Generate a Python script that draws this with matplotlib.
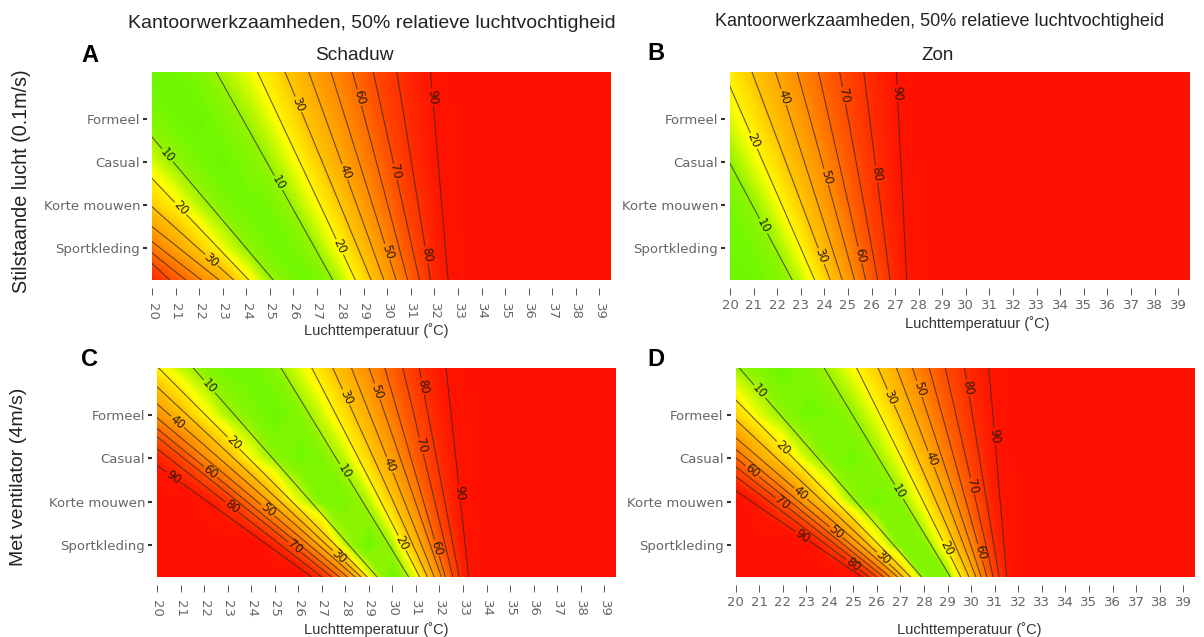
import numpy as np
import matplotlib
matplotlib.use("Agg")
import matplotlib.pyplot as plt
from matplotlib.colors import LinearSegmentedColormap

# luchttemperatuur kolommen en kledingrijen (boven -> onder)
temps = [20, 21, 22, 23, 24, 25, 26, 27, 28, 29, 30, 31, 32, 33, 34, 40]
clo_rows = [5.087, 4, 3, 2, 1, 0.256]
clo_ticks = [4, 3, 2, 1]
clo_names = ["Formeel", "Casual", "Korte mouwen", "Sportkleding"]
tick_temps = list(range(20, 40))
levels = [10, 20, 30, 40, 50, 60, 70, 80, 90]

ppd_a = [
    [5, 6, 8, 12, 17, 24, 33, 44, 54, 65, 76, 84, 91, 100, 100, 100],
    [8, 6, 5, 8, 11, 17, 26, 36, 47, 59, 72, 82, 90, 97, 100, 100],
    [16, 10, 7, 5, 8, 11, 18, 28, 40, 53, 66, 80, 89, 97, 100, 100],
    [29, 21, 13, 8, 6, 7, 11, 19, 30, 45, 60, 75, 87, 96, 100, 100],
    [56, 42, 29, 18, 10, 7, 7, 11, 20, 34, 51, 69, 85, 95, 100, 100],
    [82, 66, 51, 38, 22, 11, 7, 7, 13, 25, 43, 63, 82, 94, 100, 100],
]
ppd_b = [
    [22, 31, 41, 52, 63, 73, 82, 90, 100, 100, 100, 100, 100, 100, 100, 100],
    [16, 24, 34, 45, 58, 70, 81, 89, 100, 100, 100, 100, 100, 100, 100, 100],
    [10, 17, 26, 38, 51, 65, 78, 88, 97, 100, 100, 100, 100, 100, 100, 100],
    [7, 10, 18, 29, 44, 60, 75, 87, 96, 100, 100, 100, 100, 100, 100, 100],
    [6, 7, 11, 20, 35, 52, 70, 85, 94, 100, 100, 100, 100, 100, 100, 100],
    [5, 6, 8, 14, 26, 45, 65, 83, 93, 100, 100, 100, 100, 100, 100, 100],
]
ppd_c = [
    [21, 14, 9, 6, 6, 9, 16, 25, 37, 50, 64, 78, 88, 96, 100, 100],
    [48, 34, 21, 12, 8, 5, 8, 15, 25, 39, 55, 71, 85, 95, 100, 100],
    [86, 72, 51, 34, 19, 10, 6, 8, 14, 27, 44, 64, 81, 93, 100, 100],
    [100, 100, 92, 78, 56, 35, 17, 8, 7, 13, 29, 51, 75, 92, 100, 100],
    [100, 100, 100, 100, 100, 84, 62, 36, 13, 5, 12, 34, 64, 88, 100, 100],
    [100, 100, 100, 100, 100, 100, 100, 80, 53, 18, 5, 17, 47, 84, 100, 100],
]
ppd_d = [
    [11, 8, 5, 8, 12, 19, 29, 42, 57, 71, 83, 92, 100, 100, 100, 100],
    [28, 17, 10, 6, 7, 10, 18, 31, 47, 64, 79, 91, 100, 100, 100, 100],
    [61, 41, 27, 15, 8, 6, 10, 19, 35, 55, 74, 89, 98, 100, 100, 100],
    [100, 86, 68, 44, 25, 11, 6, 9, 21, 40, 65, 86, 97, 100, 100, 100],
    [100, 100, 100, 96, 76, 48, 22, 8, 8, 23, 51, 81, 96, 100, 100, 100],
    [100, 100, 100, 100, 100, 100, 70, 35, 9, 9, 33, 72, 97, 100, 100, 100],
]

# isolijnen: temperatuur aan boven- en onderrand, warme en koude kant
hot_top_a = [22.73, 24.48, 25.65, 26.66, 27.6, 28.52, 29.4, 30.4, 31.83]
hot_bot_a = [27.68, 28.64, 29.31, 29.85, 30.37, 30.86, 31.36, 31.83, 32.58]
cold_top_a = [17.66, 15.69, 13.61, 11.74, 10.7, 10.43, 11.35]
cold_bot_a = [25.15, 24.11, 23.47, 22.85, 22.1, 21.43, 20.75]

hot_top_b = [17.93, 19.73, 20.93, 21.93, 22.85, 23.75, 24.65, 25.67, 27.05]
hot_bot_b = [22.64, 23.59, 24.25, 24.76, 25.28, 25.75, 26.26, 26.78, 27.49]
cold_top_b = []
cold_bot_b = []

hot_top_c = [25.27, 26.58, 27.47, 28.26, 29.01, 29.68, 30.44, 31.14, 32.28]
hot_bot_c = [30.69, 31.16, 31.49, 31.78, 32.08, 32.25, 32.57, 32.84, 33.24]
cold_top_c = [21.54, 20.07, 19.14, 18.25, 17.47, 16.84, 16.36, 15.59, 14.27]
cold_bot_c = [29.35, 28.93, 28.67, 28.42, 28.09, 27.75, 27.42, 27.0, 26.58]

hot_top_d = [23.76, 25.14, 26.05, 26.83, 27.51, 28.22, 28.9, 29.72, 30.75]
hot_bot_d = [29.12, 29.56, 29.91, 30.2, 30.43, 30.67, 30.94, 31.19, 31.51]
cold_top_d = [20.16, 18.67, 17.67, 16.57, 15.84, 15.27, 14.64, 13.91, 12.37]
cold_bot_d = [27.9, 27.43, 27.11, 26.88, 26.56, 26.29, 26.0, 25.67, 25.37]

# plek van het label op elke lijn, als fractie vanaf de bovenkant
hot_lab_a = [.533, .84, .155, .48, .864, .123, .48, .88, .12]
cold_lab_a = [.40, .656, .904, None, None, None, None]
hot_lab_b = [.741, .331, .885, .12, .504, .88, .112, .491, .104]
cold_lab_b = []
hot_lab_c = [.494, .837, .139, .463, .112, .861, .372, .088, .598]
cold_lab_c = [.088, .359, .901, .258, .681, .498, .858, .665, .523]
hot_lab_d = [.593, .864, .14, .435, .1, .882, .566, .096, .327]
cold_lab_d = [.112, .38, .909, .601, .786, .494, .646, .941, .805]

W, H = 1204, 637
plt.rcParams["font.family"] = ["Liberation Sans", "DejaVu Sans"]
cmap = LinearSegmentedColormap.from_list("ppd", [
    (0.00, "#66f000"), (0.06, "#70f800"), (0.11, "#98f400"), (0.19, "#ffff00"), (0.30, "#ffc800"),
    (0.50, "#ff8c00"), (0.70, "#ff4a00"), (0.90, "#ff1400"), (1.00, "#ff1000")])

fig = plt.figure(figsize=(W / 100, H / 100), dpi=100)


def isolijn(ax, box, level, t_top, t_bot, lab_f):
    # rechte lijn met een gat bij het label
    y_top, y_bot = clo_rows[0], clo_rows[-1]
    w_px = (box[2] - box[0]) / 19.5 * (t_bot - t_top)
    h_px = box[3] - box[1]
    angle = np.degrees(np.arctan2(-h_px, w_px))
    pieces = [(0, 1)]
    if lab_f is not None:
        df = 9 * abs(np.sin(np.radians(angle))) / h_px
        pieces = [(0, lab_f - df), (lab_f + df, 1)]
    for f0, f1 in pieces:
        ax.plot([t_top + (t_bot - t_top) * f0, t_top + (t_bot - t_top) * f1],
                [y_top + (y_bot - y_top) * f0, y_top + (y_bot - y_top) * f1],
                color="#3a2a10", lw=0.8, alpha=0.75)
    if lab_f is not None:
        ax.text(t_top + (t_bot - t_top) * lab_f, y_top + (y_bot - y_top) * lab_f, str(level),
                rotation=angle, rotation_mode="anchor", ha="center", va="center", fontsize=8.5,
                color="#2a1a08", family="DejaVu Sans", clip_on=True)


def panel(box, ppd, hot_top, hot_bot, hot_lab, cold_top, cold_bot, cold_lab, rotate):
    left, top, right, bottom = box
    ax = fig.add_axes([left / W, 1 - bottom / H, (right - left) / W, (bottom - top) / H])
    x = np.array(temps, dtype=float)
    y = np.array(clo_rows)[::-1]
    z = np.array(ppd, dtype=float)[::-1]
    ax.contourf(x, y, z, levels=np.arange(0, 101, 1), cmap=cmap, vmin=0, vmax=100, antialiased=False)
    for i in range(len(hot_top)):
        isolijn(ax, box, levels[i], hot_top[i], hot_bot[i], hot_lab[i])
    for i in range(len(cold_top)):
        isolijn(ax, box, levels[i], cold_top[i], cold_bot[i], cold_lab[i])
    ax.set_xlim(20, 39.5)
    ax.set_ylim(clo_rows[-1], clo_rows[0])

    for s in ax.spines.values():
        s.set_visible(False)
    ax.spines["bottom"].set_position(("outward", 5.5))
    ax.spines["left"].set_position(("outward", 3.5))
    ax.set_xticks(tick_temps)
    ax.set_xticklabels(tick_temps, rotation=-90 if rotate else 0, family="DejaVu Sans")
    ax.set_yticks(clo_ticks)
    ax.set_yticklabels(clo_names, family="DejaVu Sans")
    ax.tick_params(axis="x", length=5, width=0.7, color="#555555", labelcolor="#666666",
                   labelsize=9.5, pad=6 if rotate else 3)
    ax.tick_params(axis="y", length=3, width=1.5, color="#333333", labelcolor="#666666",
                   labelsize=9.5, pad=2)
    return ax


panel((152, 72, 611, 280), ppd_a, hot_top_a, hot_bot_a, hot_lab_a, cold_top_a, cold_bot_a, cold_lab_a, True)
panel((730, 72, 1190, 280), ppd_b, hot_top_b, hot_bot_b, hot_lab_b, cold_top_b, cold_bot_b, cold_lab_b, False)
panel((157, 368, 616, 577), ppd_c, hot_top_c, hot_bot_c, hot_lab_c, cold_top_c, cold_bot_c, cold_lab_c, True)
panel((735.5, 368, 1195, 577), ppd_d, hot_top_d, hot_bot_d, hot_lab_d, cold_top_d, cold_bot_d, cold_lab_d, False)


def txt(x, y, s, **kw):
    fig.text(x / W, 1 - y / H, s, va="center", **kw)


txt(128, 23, "Kantoorwerkzaamheden, 50% relatieve luchtvochtigheid", fontsize=14, color="#222222")
txt(715, 21, "Kantoorwerkzaamheden, 50% relatieve luchtvochtigheid", fontsize=13, color="#222222")
txt(354, 56, "Schaduw", ha="center", fontsize=13.8, color="#222222")
txt(938, 56, "Zon", ha="center", fontsize=13.5, color="#222222")
for x, y, s in [(90, 56, "A"), (656, 53, "B"), (90, 359, "C"), (656, 360, "D")]:
    txt(x, y, s, ha="center", fontsize=17, fontweight="bold", color="black")
for x, y in [(376, 331), (977, 324), (376, 630), (969, 630)]:
    txt(x, y, "Luchttemperatuur (˚C)", ha="center", fontsize=10.5, color="#333333")
txt(22, 181, "Stilstaande lucht (0.1m/s)", ha="center", rotation=90, fontsize=14.2, color="#222222")
txt(19, 477, "Met ventilator (4m/s)", ha="center", rotation=90, fontsize=14, color="#222222")

fig.savefig("out.png", dpi=100)
